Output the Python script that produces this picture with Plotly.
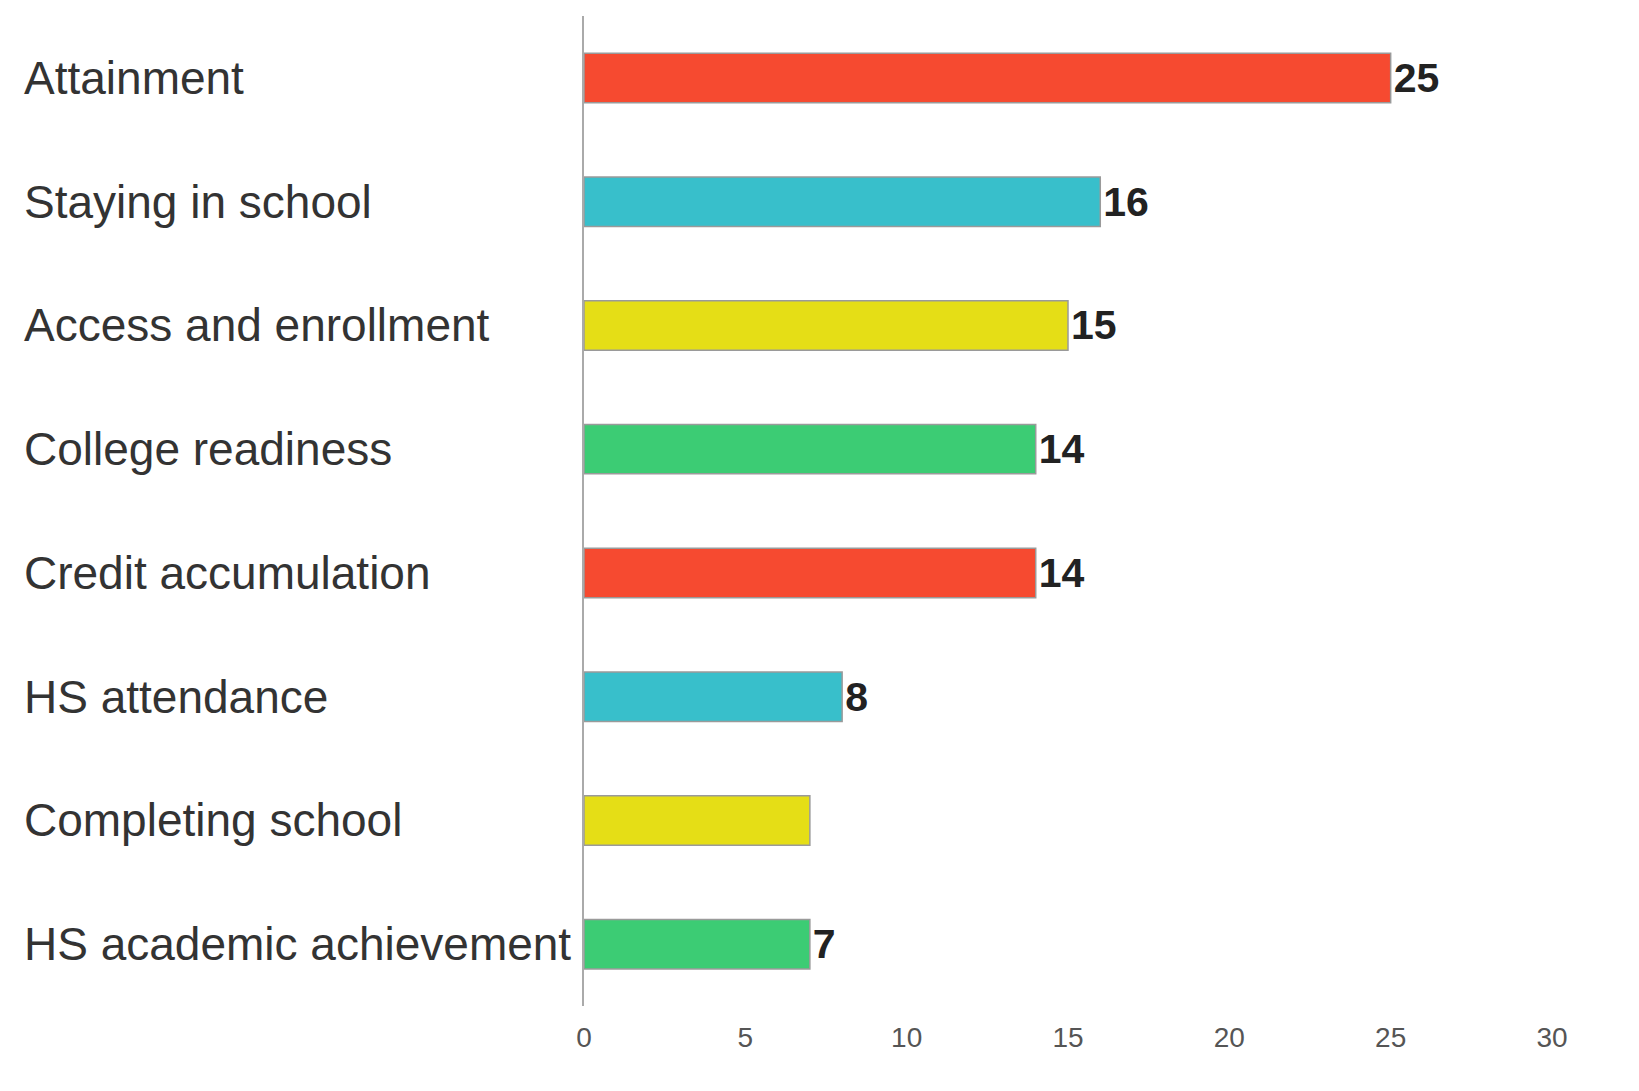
import plotly.graph_objects as go

categories = ["Attainment", "Staying in school", "Access and enrollment", "College readiness",
              "Credit accumulation", "HS attendance", "Completing school", "HS academic achievement"]
values = [25, 16, 15, 14, 14, 8, 7, 7]
value_labels = ["25", "16", "15", "14", "14", "8", "", "7"]
colors = ["#F64A30", "#38BFCB", "#E5DE16", "#3CCC74", "#F64A30", "#38BFCB", "#E5DE16", "#3CCC74"]
x_ticks = [0, 5, 10, 15, 20, 25, 30]

W, H = 1639, 1091
ml, mr, mt, mb = 576, 95, 8, 93
plot_w = W - ml - mr

fig = go.Figure()
fig.add_trace(go.Bar(
    y=categories, x=values, orientation="h",
    marker=dict(color=colors, line=dict(color="#9a9a9a", width=1.5)),
    width=0.4,
    text=value_labels, textposition="outside",
    textfont=dict(family="Liberation Sans, Arial, sans-serif", size=41, color="#222222", weight="bold"),
    cliponaxis=False,
    hoverinfo="skip",
))

for c in categories:
    fig.add_annotation(
        x=-(ml - 14) / plot_w, xref="paper", y=c, yref="y",
        text=c, showarrow=False, xanchor="left", yanchor="middle",
        font=dict(family="Liberation Sans, Arial, sans-serif", size=46, color="#333333"),
    )

fig.update_layout(
    width=W, height=H,
    margin=dict(l=ml, r=mr, t=mt, b=mb),
    paper_bgcolor="white", plot_bgcolor="white",
    showlegend=False,
    xaxis=dict(range=[0, 30], tickvals=x_ticks, ticktext=[str(t) for t in x_ticks],
               showgrid=False, zeroline=False, showline=False, ticks="",
               ticklabelstandoff=12,
               tickfont=dict(family="Liberation Sans Narrow, Arial Narrow, sans-serif", size=28, color="#555555")),
    yaxis=dict(categoryorder="array", categoryarray=categories, autorange=False,
               range=[7.5, -0.5], showticklabels=False, showgrid=False, zeroline=False,
               showline=True, linecolor="#aaaaaa", linewidth=2, ticks=""),
)

fig.write_html("out.html")
